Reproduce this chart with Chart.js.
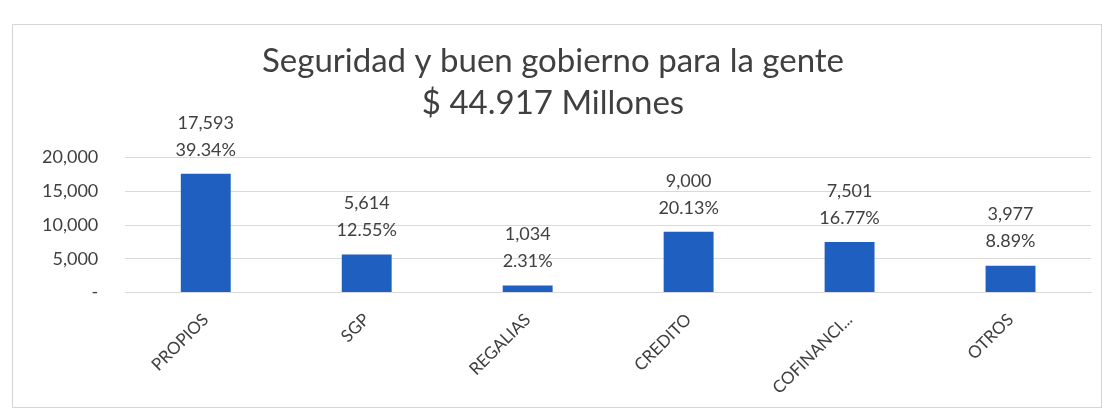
<!DOCTYPE html>
<html>
<head>
<meta charset="utf-8">
<script src="https://cdn.jsdelivr.net/npm/chart.js@4"></script>
<style>
    body { margin: 0; background: #ffffff; }
    #frame {
        position: absolute; left: 12px; top: 24px;
        width: 1088px; height: 382px;
        border: 1px solid #d4d4d4;
    }
</style>
</head>
<body>
<div id="frame"><canvas id="fuentesChart" width="1088" height="382"></canvas></div>
<script>
// ================================
// Datos
// ================================
const categorias = ['PROPIOS', 'SGP', 'REGALIAS', 'CREDITO', 'COFINANCI...', 'OTROS'];
const valores = [17593, 5614, 1034, 9000, 7501, 3977];
const porcentajes = ['39.34%', '12.55%', '2.31%', '20.13%', '16.77%', '8.89%'];
const ticksY = [0, 5000, 10000, 15000, 20000];
const titulo = ['Seguridad y buen gobierno para la gente', '$ 44.917 Millones'];

const textoGris = '#404040';
const fuente = "'Lato', 'Open Sans', sans-serif";

// ================================
// Etiquetas encima de cada barra
// ================================
const etiquetasBarras = {
    id: 'etiquetasBarras',
    afterDatasetsDraw(chart) {
        const ctx = chart.ctx;
        const meta = chart.getDatasetMeta(0);
        ctx.save();
        ctx.font = '18px ' + fuente;
        ctx.fillStyle = textoGris;
        ctx.textAlign = 'center';
        ctx.textBaseline = 'middle';
        meta.data.forEach((bar, i) => {
            const v = valores[i].toLocaleString('en-US');
            ctx.fillText(porcentajes[i], bar.x, bar.y - 24);
            ctx.fillText(v, bar.x, bar.y - 51);
        });
        ctx.restore();
    }
};

function loadChart() {
    const ctx = document.getElementById('fuentesChart');

    new Chart(ctx, {
        type: 'bar',
        data: {
            labels: categorias,
            datasets: [{
                data: valores,
                backgroundColor: '#1f5fbf',
                barPercentage: 0.31,
                categoryPercentage: 1
            }]
        },
        options: {
            responsive: false,
            animation: false,
            layout: { padding: { left: 2, right: 10, top: 0, bottom: 0 } },
            plugins: {
                legend: { display: false },
                tooltip: { enabled: false },
                title: {
                    display: true,
                    text: titulo,
                    color: textoGris,
                    font: { family: fuente, size: 33, weight: 'normal', lineHeight: 1.25 },
                    padding: { top: 16, bottom: 34 }
                }
            },
            scales: {
                y: {
                    min: 0,
                    max: 20000,
                    afterBuildTicks: axis => { axis.ticks = ticksY.map(v => ({ value: v })); },
                    grid: { color: '#d9d9d9', drawTicks: false },
                    border: { display: false },
                    ticks: {
                        color: textoGris,
                        padding: 27,
                        font: { family: fuente, size: 18 },
                        callback: v => v === 0 ? '-' : v.toLocaleString('en-US')
                    }
                },
                x: {
                    grid: { display: false },
                    border: { color: '#d9d9d9' },
                    ticks: {
                        color: textoGris,
                        padding: 9,
                        minRotation: 45,
                        maxRotation: 45,
                        font: { family: fuente, size: 17 }
                    }
                }
            }
        },
        plugins: [etiquetasBarras]
    });
}

document.addEventListener('DOMContentLoaded', loadChart);
</script>
</body>
</html>
